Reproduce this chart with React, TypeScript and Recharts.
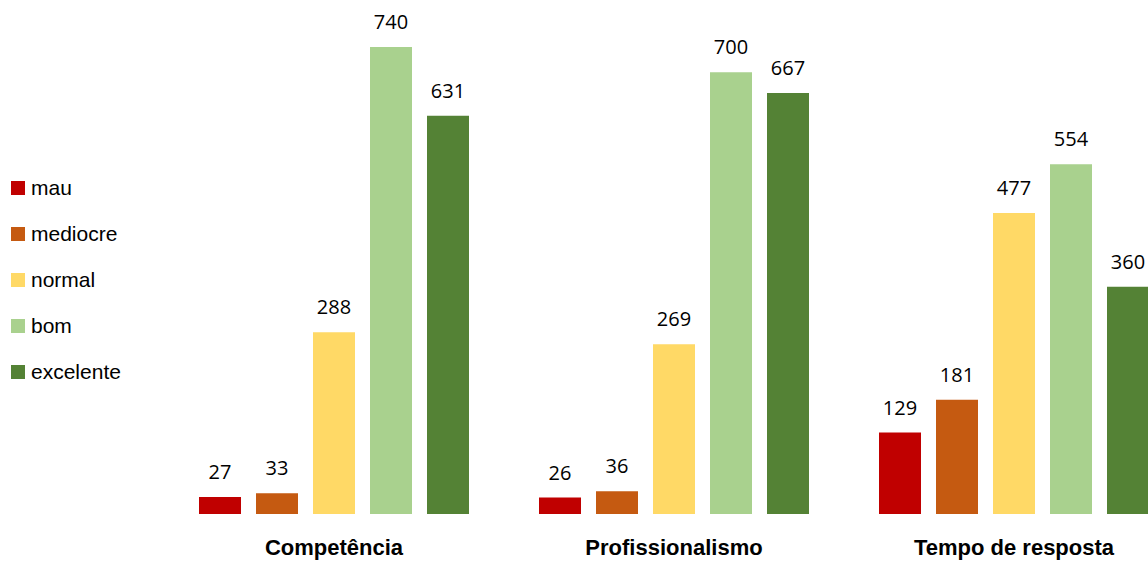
import { BarChart, Bar, XAxis, YAxis, LabelList } from 'recharts';

const CATEGORIES = ['Competência', 'Profissionalismo', 'Tempo de resposta'];
const SERIES_NAMES = ['mau', 'mediocre', 'normal', 'bom', 'excelente'];
const MAU = [27, 26, 129];
const MEDIOCRE = [33, 36, 181];
const NORMAL = [288, 269, 477];
const BOM = [740, 700, 554];
const EXCELENTE = [631, 667, 360];

const COLORS = ['#C00000', '#C55A11', '#FFD966', '#A9D18E', '#548235'];
const SERIES_VALUES = [MAU, MEDIOCRE, NORMAL, BOM, EXCELENTE];

const data = CATEGORIES.map((name, i) => {
  const row: Record<string, string | number> = { name };
  SERIES_NAMES.forEach((s, j) => {
    row[s] = SERIES_VALUES[j][i];
  });
  return row;
});

const Legend = () => (
  <div style={{ position: 'absolute', left: 11, top: 165, fontFamily: '"Liberation Sans", Arial, sans-serif', fontSize: 21, color: '#000' }}>
    {SERIES_NAMES.map((s, i) => (
      <div key={s} style={{ display: 'flex', alignItems: 'center', height: 46 }}>
        <span style={{ width: 14, height: 14, background: COLORS[i], display: 'inline-block', marginRight: 6 }} />
        <span>{s}</span>
      </div>
    ))}
  </div>
);

const App = () => {
  return (
    <div style={{ position: 'absolute', left: 0, top: 0, width: 1148, height: 563, overflow: 'hidden', background: '#fff' }}>
      <BarChart
        width={1184}
        height={563}
        data={data}
        margin={{ top: 9, right: 0, bottom: 0, left: 164 }}
        barGap={15}
        barCategoryGap={35}
      >
        <XAxis
          dataKey="name"
          height={49}
          axisLine={false}
          tickLine={false}
          tickSize={0}
          tickMargin={25}
          interval={0}
          tick={{ fill: '#000', fontSize: 22, fontWeight: 'bold', fontFamily: '"Liberation Sans", Arial, sans-serif' }}
        />
        <YAxis hide domain={[0, 800]} />
        {SERIES_NAMES.map((s, i) => (
          <Bar key={s} dataKey={s} fill={COLORS[i]} barSize={42} isAnimationActive={false}>
            <LabelList
              dataKey={s}
              position="top"
              offset={18}
              fill="#000"
              fontSize={20}
              fontFamily='"Open Sans", sans-serif'
            />
          </Bar>
        ))}
      </BarChart>
      <Legend />
    </div>
  );
};

export default App;
